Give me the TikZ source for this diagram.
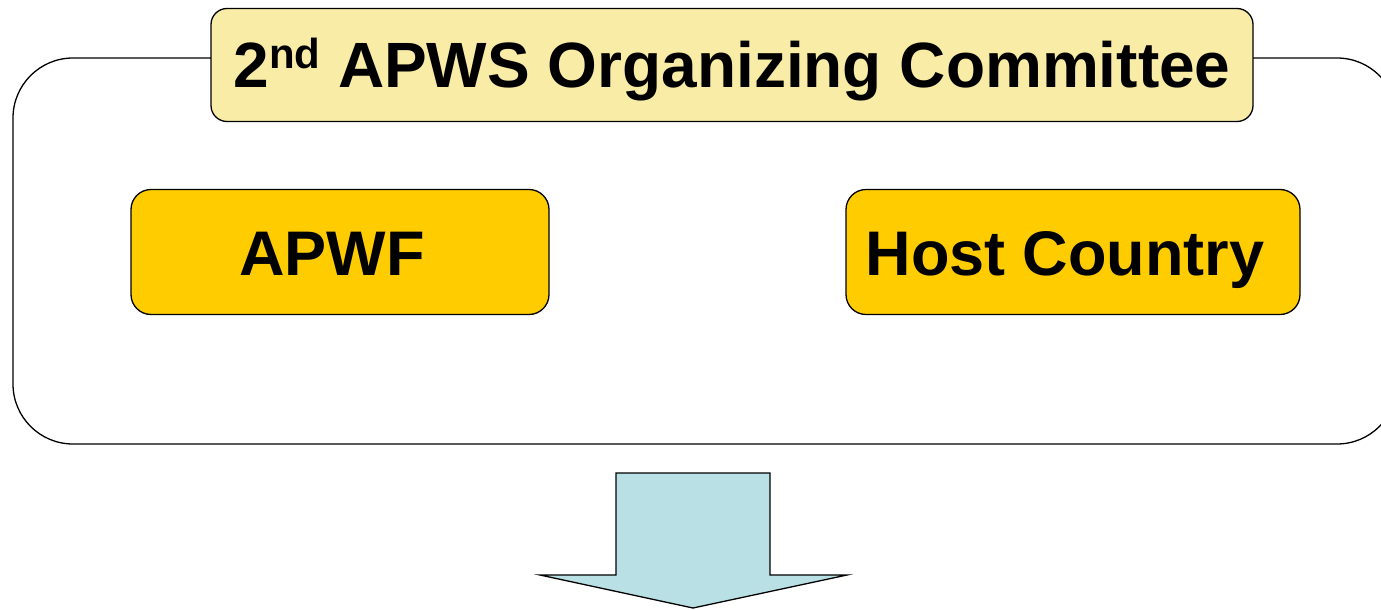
\documentclass[tikz,border=0pt]{standalone}
\usepackage{fontspec}
\setmainfont{Liberation Sans}
\begin{document}
\begin{tikzpicture}[x=1pt,y=-1pt]

    % --- 1. Canvas ---
    \useasboundingbox (0,0) rectangle (1381,610);
    \clip (0,0) rectangle (1381,610);

    % --- 2. Outer frame (runs past the right edge) ---
    \draw[line width=1.3pt, rounded corners=60pt] (13,58) rectangle (1397,444);

    % --- 3. Boxes ---
    % caps centred in each box (text depth 0)
    \node[draw, line width=1.3pt, rounded corners=16pt, fill={rgb,255:red,248;green,236;blue,166},
          minimum width=1042pt, minimum height=113pt, inner sep=0pt,
          text height=46pt, text depth=0pt,
          font=\fontsize{64}{70}\selectfont\bfseries] (title) at (732,65)
          {2\raisebox{19pt}{\fontsize{42}{42}\selectfont nd} APWS Organizing Committee};
    \node[draw, line width=1.3pt, rounded corners=20pt, fill={rgb,255:red,255;green,204;blue,0},
          minimum width=418pt, minimum height=125pt, inner sep=0pt,
          text height=46pt, text depth=0pt,
          font=\fontsize{63}{68}\selectfont\bfseries] (apwf) at (340,252) {APWF\kern16pt};
    \node[draw, line width=1.3pt, rounded corners=20pt, fill={rgb,255:red,255;green,204;blue,0},
          minimum width=454pt, minimum height=125pt, inner sep=0pt,
          text height=46pt, text depth=0pt,
          font=\fontsize{63}{68}\selectfont\bfseries] (host) at (1073,252) {Host Country\kern16pt};

    % --- 4. Down arrow ---
    \draw[line width=1.3pt, fill={rgb,255:red,185;green,224;blue,228}]
        (616,473) -- (770,473) -- (770,575) -- (847,575) -- (693,608)
        -- (540,575) -- (616,575) -- cycle;

\end{tikzpicture}
\end{document}
